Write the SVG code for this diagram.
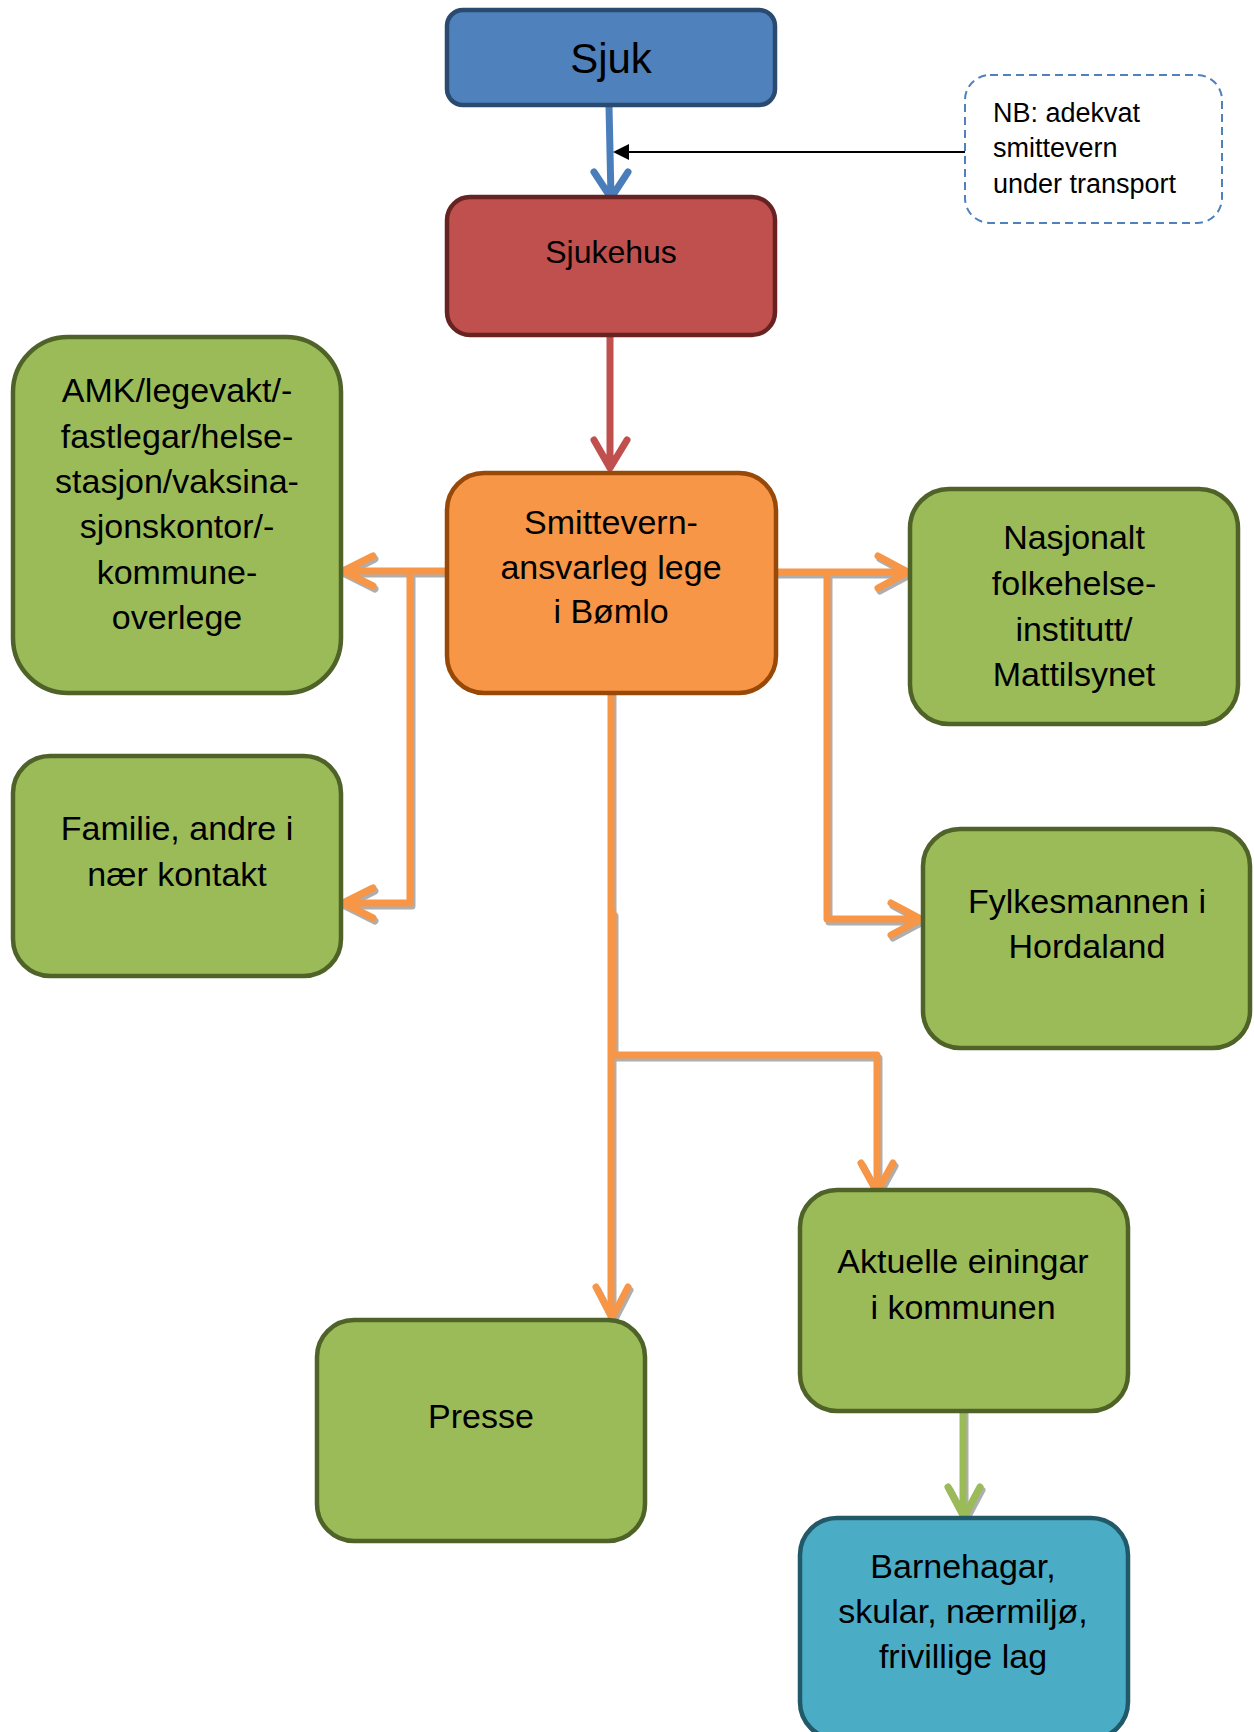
<svg xmlns="http://www.w3.org/2000/svg" width="1254" height="1732" viewBox="0 0 1254 1732">
<style>
text{font-family:"Liberation Sans",Arial,sans-serif;fill:#000;text-anchor:middle}
.t{font-size:34px}
.green{fill:#9BBB59;stroke:#4F6228;stroke-width:4.5}
.conn{fill:none;stroke-width:7;stroke-linecap:round;stroke-linejoin:round}
.or{stroke:#F79646}
.sh{stroke:#8C8C8C;opacity:0.7}
</style>
<rect width="1254" height="1732" fill="#fff"/>
<g id="connectors">
  <g class="shadow" transform="translate(2,3)">
    <path class="conn sh" d="M446,571 H343 M373,556 L343,571 L373,586 M410,575 V903 H343 M373,888 L343,903 L373,918 M776,572 H908 M878,556 L908,572 L878,588 M827,576 V919 H921 M891,903 L921,919 L891,935 M611,693 V1317 M596,1287 L612,1318 L628,1287 M613,913 V1055 H877 V1190 M861,1163 L877,1192 L893,1163 M963,1411 V1516 M948,1487 L964,1517 L980,1487"/>
  </g>
  <path class="conn" stroke="#4A7EBB" d="M609,106 L611,198 M594,172 L611,198 L628,172"/>
  <path class="conn" stroke="#C0504D" d="M610,336 V467 M594,440 L610,468 L627,440"/>
  <path class="conn or" d="M446,571 H343 M373,556 L343,571 L373,586"/>
  <path class="conn or" d="M410,575 V903 H343 M373,888 L343,903 L373,918"/>
  <path class="conn or" d="M776,572 H908 M878,556 L908,572 L878,588"/>
  <path class="conn or" d="M827,576 V919 H921 M891,903 L921,919 L891,935"/>
  <path class="conn or" d="M611,693 V1317 M596,1287 L612,1318 L628,1287"/>
  <path class="conn or" d="M613,913 V1055 H877 V1190 M861,1163 L877,1192 L893,1163"/>
  <path class="conn" stroke="#9BBB59" d="M963,1411 V1516 M948,1487 L964,1517 L980,1487"/>
  <line x1="965" y1="152" x2="622" y2="152" stroke="#000" stroke-width="2"/>
  <polygon points="613,152 629,144 629,160" fill="#000"/>
</g>
<g id="sjuk">
  <rect x="447" y="10" width="328" height="95" rx="16" fill="#4F81BD" stroke="#2A4A70" stroke-width="4.5"/>
  <text x="611" y="73" style="font-size:42px">Sjuk</text>
</g>
<g id="sjukehus">
  <rect x="447" y="197" width="328" height="138" rx="23" fill="#C0504D" stroke="#662321" stroke-width="4.5"/>
  <text x="611" y="263" style="font-size:32px">Sjukehus</text>
</g>
<g id="note">
  <rect x="965" y="75" width="257" height="148" rx="25" fill="#fff" stroke="#4F81BD" stroke-width="2" stroke-dasharray="8,5"/>
  <text x="993" y="122" style="font-size:27px;text-anchor:start">NB: adekvat</text>
  <text x="993" y="157" style="font-size:27px;text-anchor:start">smittevern</text>
  <text x="993" y="193" style="font-size:27px;text-anchor:start">under transport</text>
</g>
<g id="smittevern">
  <rect x="447" y="473" width="329" height="220" rx="37" fill="#F79646" stroke="#984807" stroke-width="4.5"/>
  <text class="t" x="611" y="534">Smittevern-</text>
  <text class="t" x="611" y="579">ansvarleg lege</text>
  <text class="t" x="611" y="623">i Bømlo</text>
</g>
<g id="amk">
  <rect class="green" x="13" y="337" width="328" height="356" rx="55"/>
  <text class="t" x="177" y="402">AMK/legevakt/-</text>
  <text class="t" x="177" y="448">fastlegar/helse-</text>
  <text class="t" x="177" y="493">stasjon/vaksina-</text>
  <text class="t" x="177" y="538">sjonskontor/-</text>
  <text class="t" x="177" y="584">kommune-</text>
  <text class="t" x="177" y="629">overlege</text>
</g>
<g id="familie">
  <rect class="green" x="13" y="756" width="328" height="220" rx="37"/>
  <text class="t" x="177" y="840">Familie, andre i</text>
  <text class="t" x="177" y="886">nær kontakt</text>
</g>
<g id="nasjonalt">
  <rect class="green" x="910" y="489" width="328" height="235" rx="39"/>
  <text class="t" x="1074" y="549">Nasjonalt</text>
  <text class="t" x="1074" y="595">folkehelse-</text>
  <text class="t" x="1074" y="641">institutt/</text>
  <text class="t" x="1074" y="686">Mattilsynet</text>
</g>
<g id="fylkesmannen">
  <rect class="green" x="923" y="829" width="327" height="219" rx="37"/>
  <text class="t" x="1087" y="913">Fylkesmannen i</text>
  <text class="t" x="1087" y="958">Hordaland</text>
</g>
<g id="presse">
  <rect class="green" x="317" y="1320" width="328" height="221" rx="37"/>
  <text class="t" x="481" y="1428">Presse</text>
</g>
<g id="aktuelle">
  <rect class="green" x="800" y="1190" width="328" height="221" rx="37"/>
  <text class="t" x="963" y="1273">Aktuelle einingar</text>
  <text class="t" x="963" y="1319">i kommunen</text>
</g>
<g id="barnehagar">
  <rect x="800" y="1518" width="328" height="221" rx="37" fill="#4BACC6" stroke="#215968" stroke-width="4.5"/>
  <text class="t" x="963" y="1578">Barnehagar,</text>
  <text class="t" x="963" y="1623">skular, nærmiljø,</text>
  <text class="t" x="963" y="1668">frivillige lag</text>
</g>
</svg>
